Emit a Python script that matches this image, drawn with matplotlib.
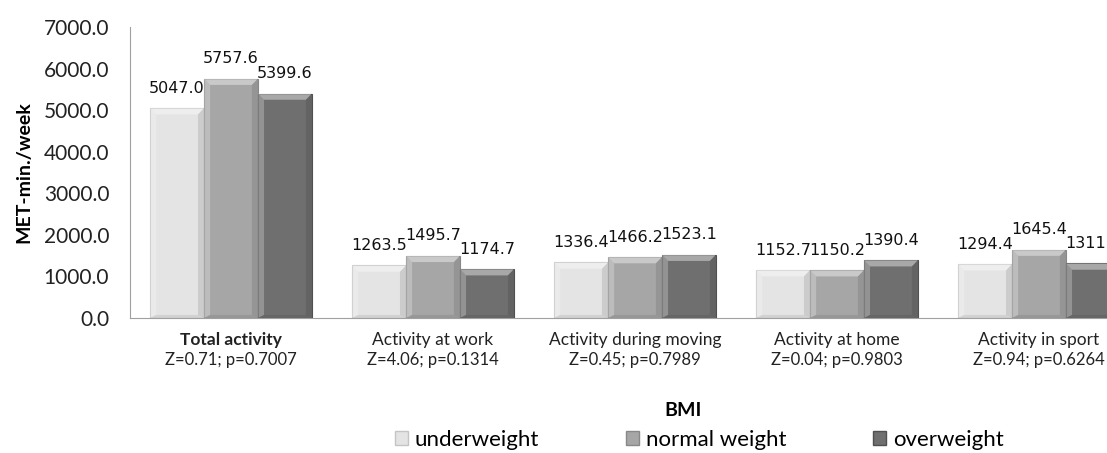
import matplotlib.pyplot as plt
import numpy as np
from matplotlib.patches import Patch, Polygon

plt.rcParams['font.family'] = ['Lato', 'DejaVu Sans']

categories = ["Total activity", "Activity at work", "Activity during moving",
              "Activity at home", "Activity in sport"]
stats = ["Z=0.71; p=0.7007", "Z=4.06; p=0.1314", "Z=0.45; p=0.7989",
         "Z=0.04; p=0.9803", "Z=0.94; p=0.6264"]
groups = ["underweight", "normal weight", "overweight"]
underweight = [5047.0, 1263.5, 1336.4, 1152.7, 1294.4]
normal_weight = [5757.6, 1495.7, 1466.2, 1150.2, 1645.4]
overweight = [5399.6, 1174.7, 1523.1, 1390.4, 1311.4]

series = [underweight, normal_weight, overweight]
colors = ["#e4e4e4", "#a6a6a6", "#6f6f6f"]
edges = ["#c4c4c4", "#888888", "#505050"]

fig = plt.figure(figsize=(11.07, 4.53), dpi=100)
# axes run past the right edge of the figure, so the last group is cut off
ax = fig.add_axes([130 / 1107, 1 - 318 / 453, 1010 / 1107, 291 / 453])

x = np.arange(len(categories))
width = 0.267
bx_w = 0.03      # bevel thickness, x data units
bv_h = 150       # bevel thickness, y data units


def bevel(x0, w, h):
    # lighter top and left faces, darker right and bottom faces
    x1 = x0 + w
    faces = [
        ([(x0, h), (x1, h), (x1 - bx_w, h - bv_h), (x0 + bx_w, h - bv_h)], 'white', 0.4),
        ([(x0, 0), (x0, h), (x0 + bx_w, h - bv_h), (x0 + bx_w, bv_h * 0.5)], 'white', 0.25),
        ([(x1, 0), (x1, h), (x1 - bx_w, h - bv_h), (x1 - bx_w, bv_h * 0.5)], 'black', 0.1),
        ([(x0, 0), (x1, 0), (x1 - bx_w, bv_h * 0.5), (x0 + bx_w, bv_h * 0.5)], 'black', 0.08),
    ]
    for pts, c, a in faces:
        ax.add_patch(Polygon(pts, closed=True, color=c, alpha=a, lw=0, zorder=3))


for i, (vals, c, ec) in enumerate(zip(series, colors, edges)):
    pos = x + (i - 1) * width
    bars = ax.bar(pos, vals, width, color=c, edgecolor=ec, linewidth=0.8, zorder=2)
    for b, v in zip(bars, vals):
        bevel(b.get_x(), b.get_width(), b.get_height())
        ax.text(b.get_x() + b.get_width() / 2, v + 300, f"{v:.1f}", ha='center',
                va='bottom', fontsize=11.5, color='#111111', family=['DejaVu Sans'],
                zorder=4, clip_on=False)

ax.set_xlim(-0.5, len(categories) - 0.5)
ax.set_ylim(0, 7000)
yt = np.arange(0, 7001, 1000)
ax.set_yticks(yt)
ax.set_yticklabels([f"{v:.1f}" for v in yt], fontsize=15, color='#222222')
ax.tick_params(axis='y', length=0, pad=15)
ax.set_xticks(x)
ax.set_xticklabels([])
ax.tick_params(axis='x', length=0)
for i, (c, s) in enumerate(zip(categories, stats)):
    ax.annotate(c, (x[i], 0), xytext=(0, -16), textcoords='offset points',
                ha='center', va='center', fontsize=12.5, color='#222222',
                fontweight='bold' if i == 0 else 'normal', annotation_clip=False)
    ax.annotate(s, (x[i], 0), xytext=(0, -30.5), textcoords='offset points',
                ha='center', va='center', fontsize=12, color='#222222',
                annotation_clip=False)

ax.set_ylabel("MET-min./week", fontsize=14, fontweight='bold', labelpad=8)
for s in ['top', 'right']:
    ax.spines[s].set_visible(False)
ax.spines['left'].set_color('#a0a0a0')
ax.spines['bottom'].set_color('#a0a0a0')

fig.text(683 / 1107, 1 - 410 / 453, "BMI", ha='center', va='center',
         fontsize=14, fontweight='bold')
handles = [Patch(facecolor=c, edgecolor=ec, label=g) for c, ec, g in zip(colors, edges, groups)]
fig.legend(handles=handles, loc='center', bbox_to_anchor=(699 / 1107, 1 - 440 / 453),
           ncol=3, frameon=False, fontsize=16, columnspacing=3.9, handlelength=0.6,
           handleheight=0.6, handletextpad=0.3)

fig.savefig("out.png", dpi=100)
